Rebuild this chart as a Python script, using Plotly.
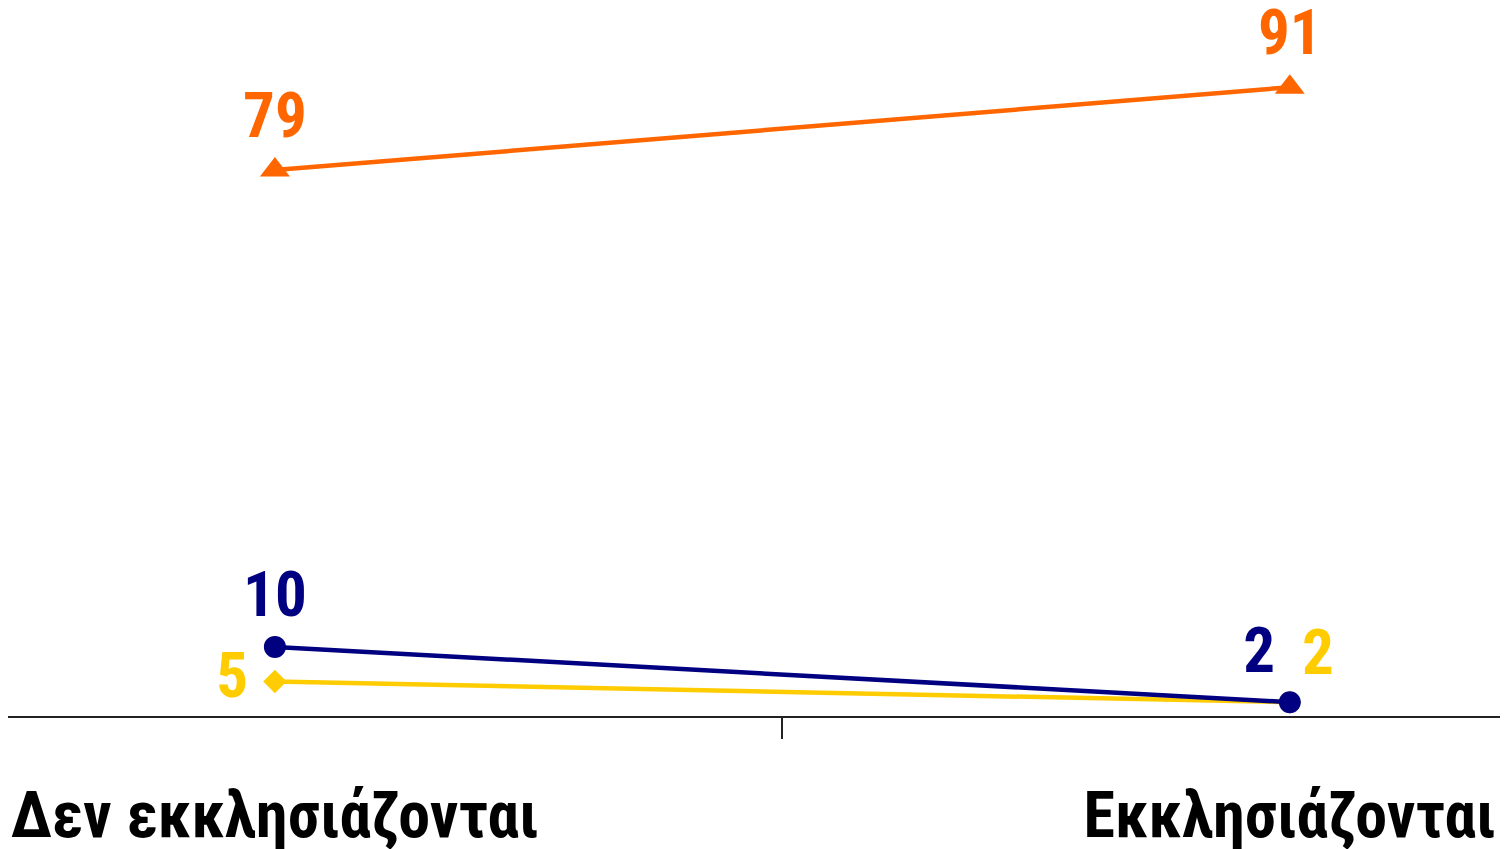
import plotly.graph_objects as go

categories = ["Δεν εκκλησιάζονται", "Εκκλησιάζονται"]
x_pos = [0, 1]
orange_vals = [79, 91]
gold_vals = [5, 2]
navy_vals = [10, 2]

FONT = "Roboto Condensed, DejaVu Sans Condensed, Liberation Sans"
NBSP = "\u00a0"
NUM_SIZE = 63

fig = go.Figure()

fig.add_trace(go.Scatter(
    x=x_pos, y=orange_vals, mode="lines+markers+text",
    text=[str(v) for v in orange_vals], textposition=["top center", "top center"],
    line=dict(color="#FF6600", width=4.5),
    marker=dict(symbol="triangle-up", size=26, color="#FF6600"),
    textfont=dict(family=FONT, size=NUM_SIZE, color="#FF6600", weight="bold"),
    cliponaxis=False, showlegend=False,
))
fig.add_trace(go.Scatter(
    x=x_pos, y=gold_vals, mode="lines+markers+text",
    text=[str(gold_vals[0]) + NBSP, str(gold_vals[1])],
    textposition=["middle left", "top right"],
    line=dict(color="#FFCC00", width=4.5),
    marker=dict(symbol="diamond", size=18, color="#FFCC00"),
    textfont=dict(family=FONT, size=NUM_SIZE, color="#FFCC00", weight="bold"),
    cliponaxis=False, showlegend=False,
))
fig.add_trace(go.Scatter(
    x=x_pos, y=navy_vals, mode="lines+markers+text",
    text=[str(v) for v in navy_vals], textposition=["top center", "top left"],
    line=dict(color="#000080", width=4.5),
    marker=dict(symbol="circle", size=22, color="#000080"),
    textfont=dict(family=FONT, size=NUM_SIZE, color="#000080", weight="bold"),
    cliponaxis=False, showlegend=False,
))

fig.update_layout(
    width=1500, height=841,
    margin=dict(l=0, r=0, t=17, b=133),
    plot_bgcolor="white", paper_bgcolor="white",
    xaxis=dict(
        range=[-0.263, 1.215], tickvals=x_pos, ticktext=categories,
        ticks="", showgrid=False, zeroline=False, automargin=False,
        ticklabeloverflow="allow",
        showline=True, linecolor="#222", linewidth=2,
        tickfont=dict(family=FONT, size=64, color="black", weight="bold"),
        ticklabelstandoff=42,
        minor=dict(tick0=0.5, dtick=1, ticks="outside", ticklen=21,
                   tickwidth=2, tickcolor="#222", showgrid=False),
    ),
    yaxis=dict(range=[0, 100], visible=False),
)

fig.write_html("out.html")
